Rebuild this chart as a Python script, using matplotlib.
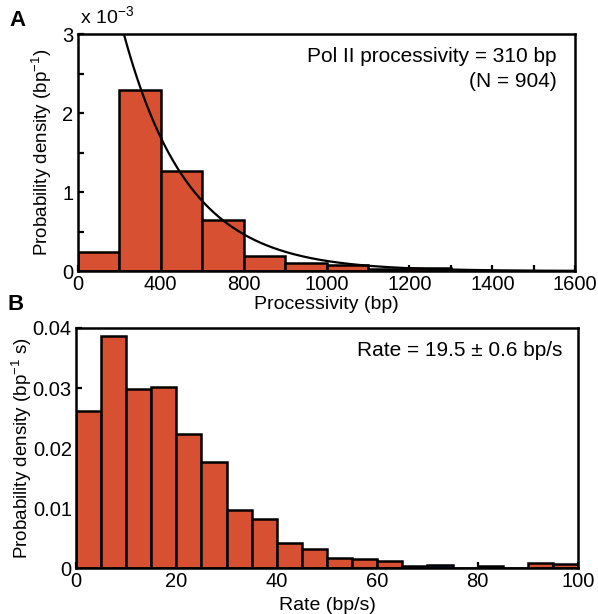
import numpy as np
import matplotlib
matplotlib.use('Agg')
import matplotlib.pyplot as plt

plt.rcParams['font.family'] = ['Liberation Sans', 'DejaVu Sans']
plt.rcParams['mathtext.fontset'] = 'custom'
plt.rcParams['mathtext.rm'] = 'Liberation Sans'

BAR_COLOR = '#D65031'

# Panel A: processivity histogram (bin edges on the drawn axis, density in 1e-3 / bp)
proc_edges = [0, 200, 400, 600, 800, 1000, 1200, 1400, 1600, 1800]
proc_density = [0.24, 2.29, 1.27, 0.64, 0.19, 0.10, 0.075, 0.03, 0.035]
proc_mean = 310      # bp, exponential fit
proc_offset = 200    # bp, start of the fitted curve
proc_tick_pos = [0, 400, 800, 1200, 1600, 2000, 2400]
proc_tick_labels = ['0', '400', '800', '1000', '1200', '1400', '1600']

# Panel B: rate histogram
rate_edges = list(range(0, 105, 5))
rate_density = [0.0262, 0.0386, 0.0298, 0.0301, 0.0223, 0.0176, 0.0096, 0.0082,
                0.0042, 0.0031, 0.0017, 0.0015, 0.0011, 0.0004, 0.0005, 0.0,
                0.0004, 0.0, 0.0008, 0.0006]
rate_colors = [BAR_COLOR] * 14 + ['#2B3990'] + [BAR_COLOR] * 5


def style_axes(ax):
    for s in ax.spines.values():
        s.set_linewidth(1.8)
    ax.tick_params(which='both', direction='in', length=4, width=1.6,
                   labelsize=14.5, pad=3)


fig = plt.figure(figsize=(5.98, 6.14), dpi=100)

# ---- panel A
ax1 = fig.add_axes([0.130, 0.5586, 0.832, 0.3860])
widths = np.diff(proc_edges)
ax1.bar(proc_edges[:-1], proc_density, width=widths, align='edge',
        color=BAR_COLOR, edgecolor='black', linewidth=1.8, zorder=2)
x = np.linspace(proc_offset, 2400, 400)
ax1.plot(x, 1000.0 / proc_mean * np.exp(-(x - proc_offset) / proc_mean),
         color='black', linewidth=1.6, zorder=3)
ax1.set_xlim(0, 2400)
ax1.set_ylim(0, 3)
ax1.set_xticks(proc_tick_pos)
ax1.set_xticklabels(proc_tick_labels)
ax1.set_xticks(np.arange(200, 2400, 400), minor=True)
ax1.set_yticks([0, 1, 2, 3])
ax1.set_yticks([0.5, 1.5, 2.5], minor=True)
style_axes(ax1)
ax1.set_xlabel('Processivity (bp)', fontsize=14, labelpad=1)
ax1.set_ylabel('Probability density (bp$^{-1}$)', fontsize=13.5, labelpad=6)
ax1.text(0.963, 0.904, 'Pol II processivity = 310 bp', transform=ax1.transAxes,
         ha='right', va='center', fontsize=15)
ax1.text(0.963, 0.799, '(N = 904)', transform=ax1.transAxes,
         ha='right', va='center', fontsize=15)
fig.text(0.134, 0.955, r'x 10$^{-3}$', fontsize=14, ha='left', va='bottom')
fig.text(0.029, 0.967, 'A', fontsize=16, fontweight='bold', ha='center', va='center')

# ---- panel B
ax2 = fig.add_axes([0.127, 0.0749, 0.8396, 0.3909])
ax2.bar(rate_edges[:-1], rate_density, width=np.diff(rate_edges), align='edge',
        color=rate_colors, edgecolor='black', linewidth=1.8, zorder=2)
ax2.set_xlim(0, 100)
ax2.set_ylim(0, 0.04)
ax2.set_xticks([0, 20, 40, 60, 80, 100])
ax2.set_yticks([0, 0.01, 0.02, 0.03, 0.04])
ax2.set_yticklabels(['0', '0.01', '0.02', '0.03', '0.04'])
style_axes(ax2)
ax2.set_xlabel('Rate (bp/s)', fontsize=14, labelpad=4)
ax2.set_ylabel('Probability density (bp$^{-1}$ s)', fontsize=13.5, labelpad=-1)
ax2.text(0.9695, 0.908, 'Rate = 19.5 \u00b1 0.6 bp/s', transform=ax2.transAxes,
         ha='right', va='center', fontsize=15)
fig.text(0.026, 0.504, 'B', fontsize=16, fontweight='bold', ha='center', va='center')

fig.savefig('out.png', dpi=100)
